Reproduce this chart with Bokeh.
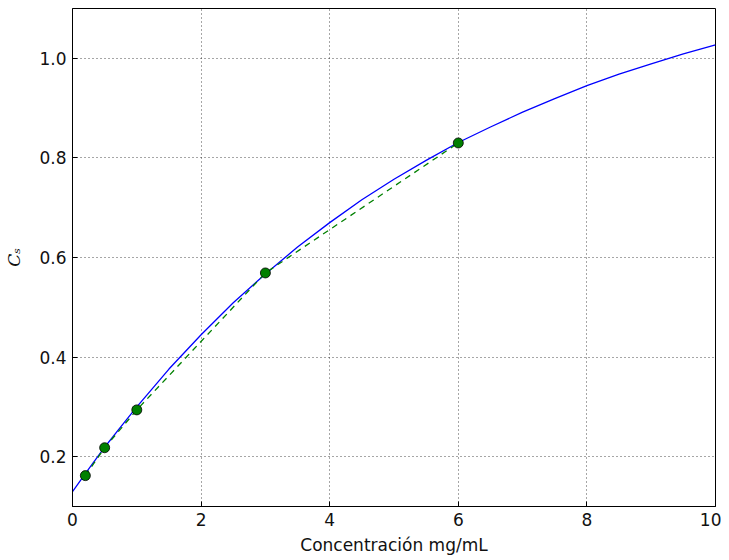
from bokeh.plotting import figure
from bokeh.models import Range1d, FixedTicker, PrintfTickFormatter
from bokeh.embed import file_html
from bokeh.resources import INLINE

# measured data points
conc = [0.2, 0.5, 1.0, 3.0, 6.0]
cs = [0.162, 0.218, 0.294, 0.569, 0.830]

# fitted curve
fit_x = [0, 0.25, 0.5, 0.75, 1, 1.5, 2, 2.5, 3, 3.5, 4, 4.5, 5, 5.5, 6, 6.5, 7, 7.5, 8, 8.5, 9, 9.5, 10]
fit_y = [0.130, 0.175, 0.219, 0.260, 0.300, 0.376, 0.445, 0.509, 0.567, 0.621, 0.670, 0.716, 0.757,
         0.795, 0.831, 0.862, 0.892, 0.919, 0.945, 0.968, 0.989, 1.009, 1.027]

x_ticks = [0, 2, 4, 6, 8, 10]
y_ticks = [0.2, 0.4, 0.6, 0.8, 1.0]

p = figure(width=721, height=557, output_backend="svg", toolbar_location=None,
           x_range=Range1d(0, 10), y_range=Range1d(0.1, 1.1),
           min_border_left=72, min_border_right=6, min_border_top=8, min_border_bottom=51)

p.background_fill_color = "white"
p.border_fill_color = "white"
p.outline_line_color = "black"
p.outline_line_width = 1

p.line(fit_x, fit_y, line_color="#0000ff", line_width=1.3)
p.line(conc, cs, line_color="#008000", line_width=1.3, line_dash="6 5")
p.scatter(conc, cs, size=10, fill_color="#008000", line_color="black", line_width=0.8)

for ax in (p.xaxis[0], p.yaxis[0]):
    ax.major_tick_in = 5
    ax.major_tick_out = 0
    ax.minor_tick_in = 0
    ax.minor_tick_out = 0
    ax.axis_line_color = "black"
    ax.major_tick_line_color = "black"
    ax.major_label_text_font = "DejaVu Sans"
    ax.major_label_text_font_size = "17px"
    ax.major_label_text_color = "#111111"

p.xaxis.ticker = FixedTicker(ticks=x_ticks)
p.yaxis.ticker = FixedTicker(ticks=y_ticks)
p.yaxis.formatter = PrintfTickFormatter(format="%.1f")
p.xaxis.major_label_standoff = 6
p.yaxis.major_label_standoff = 6

p.xaxis.axis_label = "Concentración mg/mL"
p.xaxis.axis_label_text_font = "DejaVu Sans"
p.xaxis.axis_label_text_font_size = "17px"
p.xaxis.axis_label_text_font_style = "normal"
p.xaxis.axis_label_text_color = "#111111"
p.xaxis.axis_label_standoff = 6

p.yaxis.axis_label = "Cₛ"
p.yaxis.axis_label_text_font = "DejaVu Serif"
p.yaxis.axis_label_text_font_size = "17px"
p.yaxis.axis_label_text_font_style = "italic"
p.yaxis.axis_label_text_color = "#111111"
p.yaxis.axis_label_standoff = 12

p.grid.grid_line_color = "black"
p.grid.grid_line_alpha = 0.7
p.grid.grid_line_dash = "1 3"
p.grid.grid_line_width = 1
p.xgrid.ticker = FixedTicker(ticks=x_ticks)
p.ygrid.ticker = FixedTicker(ticks=y_ticks)

out = file_html(p, INLINE)
open("out.html", "w").write(out)
